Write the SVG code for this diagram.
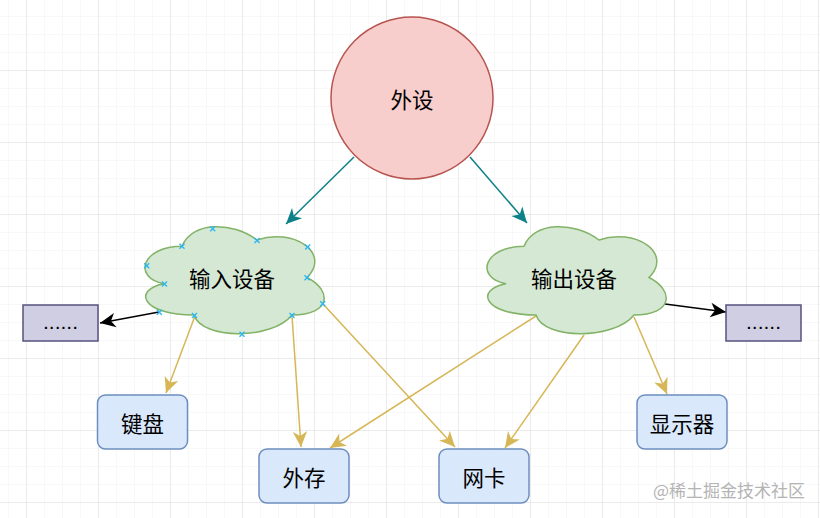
<svg xmlns="http://www.w3.org/2000/svg" width="820" height="518" viewBox="0 0 820 518">
<style>
.t{font-family:"Noto Sans CJK SC","Noto Sans",sans-serif;font-size:21.5px;fill:#000;text-anchor:middle;dominant-baseline:central}
.dots{font-family:"Liberation Sans","Noto Sans",sans-serif;font-size:21px;fill:#000;text-anchor:middle}
.box{fill:#dae8fc;stroke:#6c8ebf;stroke-width:1.5}
.pbox{fill:#d0cee2;stroke:#56517e;stroke-width:1.5}
.cloud{fill:#d5e8d4;stroke:#82b366;stroke-width:1.5}
.teal{stroke:#0e8088;stroke-width:1.5;fill:none;marker-end:url(#aTeal)}
.blk{stroke:#000;stroke-width:1.5;fill:none;marker-end:url(#aBlk)}
.yel{stroke:#d6b656;stroke-width:1.5;fill:none;marker-end:url(#aYel)}
.x{stroke:#29b6f2;stroke-width:1.3}
</style>
<defs>
<pattern id="gMinor" x="8" y="-2" width="18" height="18" patternUnits="userSpaceOnUse">
<path d="M0 0V18M0 0H18" stroke="#f1f1f1" stroke-width="1" fill="none"/>
</pattern>
<pattern id="gMajor" x="26" y="-2" width="72" height="72" patternUnits="userSpaceOnUse">
<path d="M0 0V72M0 0H72" stroke="#dedede" stroke-width="1" fill="none"/>
</pattern>
<marker id="aTeal" markerWidth="20" markerHeight="20" viewBox="-16 -8 18 16" refX="0" refY="0" orient="auto" markerUnits="userSpaceOnUse">
<path d="M0 0L-14 -6.5L-10 0L-14 6.5Z" fill="#0e8088"/>
</marker>
<marker id="aBlk" markerWidth="20" markerHeight="20" viewBox="-16 -8 18 16" refX="0" refY="0" orient="auto" markerUnits="userSpaceOnUse">
<path d="M0 0L-14 -6.5L-10 0L-14 6.5Z" fill="#000"/>
</marker>
<marker id="aYel" markerWidth="20" markerHeight="20" viewBox="-16 -8 18 16" refX="0" refY="0" orient="auto" markerUnits="userSpaceOnUse">
<path d="M0 0L-14 -6.5L-10 0L-14 6.5Z" fill="#d6b656"/>
</marker>
<path id="cloudShape" d="M50,31.25 C10,31.25 0,62.5 32,68.75 C0,75 10,100 62,100 C70,125 140,125 160,100 C200,100 200,75 175,62.5 C200,37.5 160,12.5 125,25 C100,6.25 60,6.25 50,31.25 Z"/>
</defs>
<rect width="820" height="518" fill="#fff"/>
<rect width="820" height="518" fill="url(#gMinor)"/>
<rect width="820" height="518" fill="url(#gMajor)"/>

<g id="connectors">
<path class="teal" d="M354 157L286 224"/>
<path class="teal" d="M470 157L527 223"/>
<path class="blk" d="M159 312L100 323"/>
<path class="blk" d="M665 304L726 312"/>
<path class="yel" d="M195 316L166 393"/>
<path class="yel" d="M292 316L301 447"/>
<path class="yel" d="M323 304L455 447"/>
<path class="yel" d="M536 316L330 448"/>
<path class="yel" d="M584 335L505 448"/>
<path class="yel" d="M634 317L667 394"/>
</g>

<g id="peripheral">
<circle cx="412" cy="98" r="81" fill="#f8cecc" stroke="#b85450" stroke-width="1.5"/>
<text class="t" x="412" y="98">外设</text>
</g>

<g id="input-device">
<use href="#cloudShape" class="cloud" transform="translate(132,215)"/>
<text class="t" x="232" y="277.5">输入设备</text>
<g class="x">
<path d="M144.2 263.2l5 5m0 -5l-5 5"/>
<path d="M179.5 243.8l5 5m0 -5l-5 5"/>
<path d="M210.2 226.2l5 5m0 -5l-5 5"/>
<path d="M254.5 238l5 5m0 -5l-5 5"/>
<path d="M305.2 244.5l5 5m0 -5l-5 5"/>
<path d="M304.5 275.3l5 5m0 -5l-5 5"/>
<path d="M320.2 301.2l5 5m0 -5l-5 5"/>
<path d="M289.5 313l5 5m0 -5l-5 5"/>
<path d="M239.5 331.8l5 5m0 -5l-5 5"/>
<path d="M192 313l5 5m0 -5l-5 5"/>
<path d="M156.8 309.8l5 5m0 -5l-5 5"/>
<path d="M162 281.5l5 5m0 -5l-5 5"/>
</g>
</g>

<g id="output-device">
<use href="#cloudShape" class="cloud" transform="translate(474,215)"/>
<text class="t" x="574" y="277.5">输出设备</text>
</g>

<g id="more-left">
<rect class="pbox" x="23" y="305" width="75" height="36"/>
<text class="dots" x="60.5" y="329">......</text>
</g>

<g id="more-right">
<rect class="pbox" x="726" y="305" width="75" height="36"/>
<text class="dots" x="763.5" y="329">......</text>
</g>

<g id="keyboard">
<rect class="box" x="97.5" y="395" width="90" height="54" rx="8"/>
<text class="t" x="142.5" y="422">键盘</text>
</g>

<g id="storage">
<rect class="box" x="259" y="449" width="90" height="54" rx="8"/>
<text class="t" x="304" y="476">外存</text>
</g>

<g id="nic">
<rect class="box" x="439" y="449" width="90" height="54" rx="8"/>
<text class="t" x="484" y="476">网卡</text>
</g>

<g id="display">
<rect class="box" x="637" y="395" width="90" height="54" rx="8"/>
<text class="t" x="682" y="422">显示器</text>
</g>

<text x="805" y="497" text-anchor="end" font-family="Noto Sans CJK SC, Noto Sans, sans-serif" font-size="17" fill="#b4b4b4">@稀土掘金技术社区</text>
</svg>
